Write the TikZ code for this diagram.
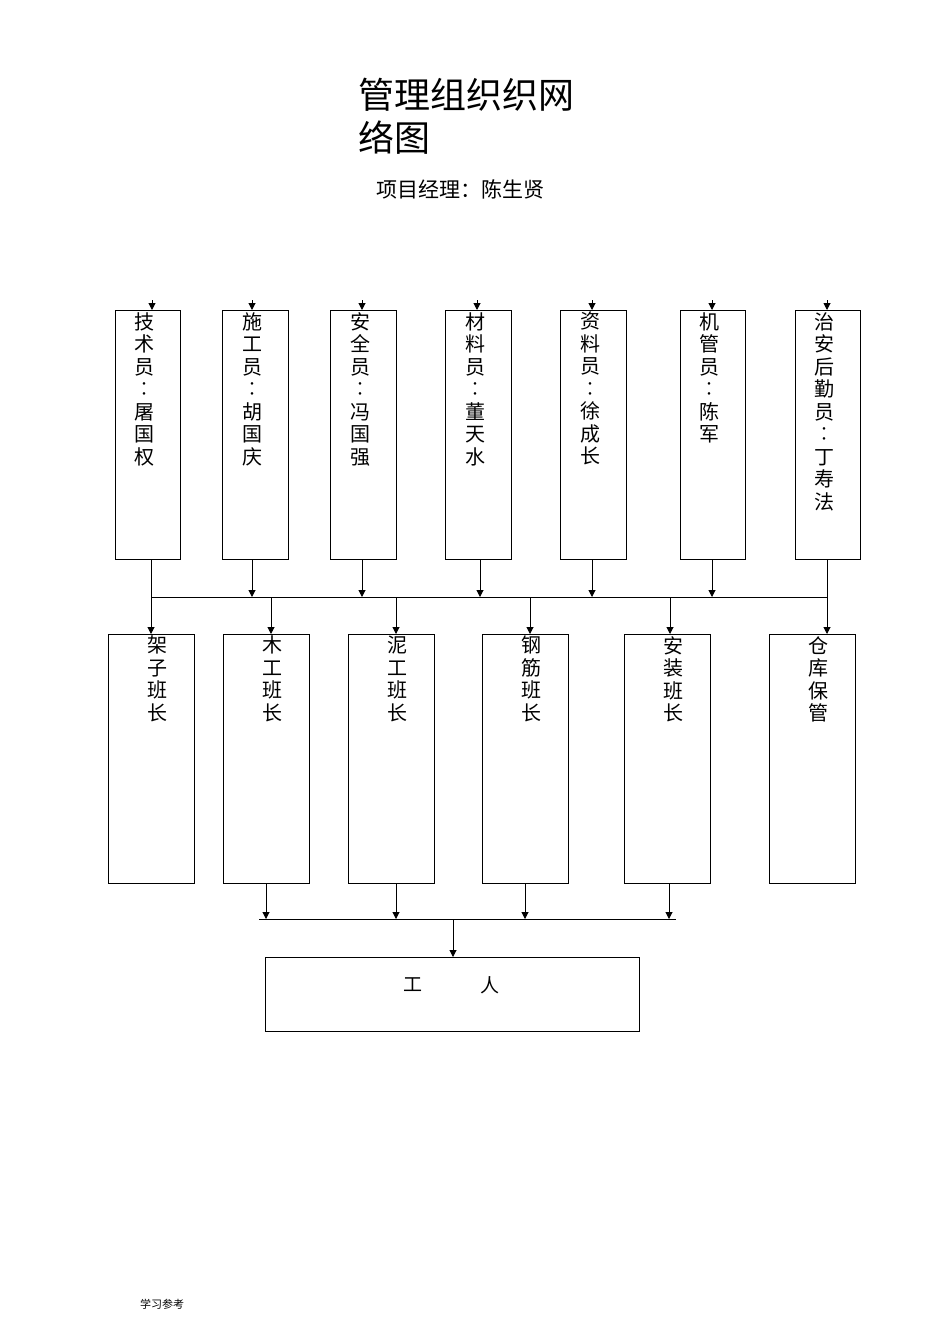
\documentclass[tikz,border=0pt]{standalone}
\usepackage{fontspec}
\newfontfamily\cjk{Noto Sans CJK SC}
\usetikzlibrary{arrows.meta,calc}
\begin{document}
\begin{tikzpicture}[x=1pt,y=-1pt,font=\cjk,
  box/.style={draw,line width=0.8pt},
  vt/.style={anchor=north,align=center,text width=22pt,inner sep=0pt,font=\cjk\fontsize{20}{22.5}\selectfont},
  ar/.style={line width=1pt,-{Triangle[length=7pt,width=7pt]}},
  ln/.style={line width=1pt}]
\useasboundingbox (0,0) rectangle (950,1344);
\node[anchor=west,font=\cjk\fontsize{36}{40}\selectfont] (t1) at (355,95) {管理组织织网};
\node[anchor=west,font=\cjk\fontsize{36}{40}\selectfont] (t2) at (355,138) {络图};
\node[font=\cjk\fontsize{21}{23}\selectfont] (sub) at (460,189) {项目经理：陈生贤};
% top boxes
\foreach \n/\a/\b/\t in {A/115/180/{技\\术\\员\\︰\\屠\\国\\权},B/222/288/{施\\工\\员\\︰\\胡\\国\\庆},C/330/396/{安\\全\\员\\︰\\冯\\国\\强},D/445/511/{材\\料\\员\\︰\\董\\天\\水},E/560/626/{资\\料\\员\\︰\\徐\\成\\长},F/680/745/{机\\管\\员\\︰\\陈\\军},G/795/860/{治\\安\\后\\勤\\员\\︰\\丁\\寿\\法}}{
  \node[box,minimum width=\b-\a,minimum height=249,inner sep=0pt,anchor=north west] (\n) at (\a,310) {};
  \node[vt] (\n t) at ($(\a,312)!0.5!(\b,312)+(-3,0)$) {\t};
}
\foreach \n/\x in {A/152,B/252,C/362,D/477,E/592,F/712,G/827}{
  \coordinate (\n s) at (\x,300);
  \draw[ar] (\n s) -- (\x,310);
}
% bus 1
\coordinate (b1l) at (151,597); \coordinate (b1r) at (827,597);
\draw[ln] (b1l) -- (b1r);
\draw[ln] (151,559) -- (b1l);
\foreach \x in {252,362,480,592,712}{\draw[ar] (\x,559) -- (\x,597);}
\draw[ln] (827,559) -- (b1r);
% bottom boxes
\foreach \n/\a/\b/\t in {H/108/194/{架\\子\\班\\长},I/223/309/{木\\工\\班\\长},J/348/434/{泥\\工\\班\\长},K/482/568/{钢\\筋\\班\\长},L/624/710/{安\\装\\班\\长},M/769/855/{仓\\库\\保\\管}}{
  \node[box,minimum width=\b-\a,minimum height=249,inner sep=0pt,anchor=north west] (\n) at (\a,634) {};
  \node[vt] (\n t) at ($(\a,636)!0.5!(\b,636)+(6,0)$) {\t};
}
\foreach \x in {151,271,396,530,670,827}{\draw[ar] (\x,597) -- (\x,634);}
% bus 2
\coordinate (b2l) at (259,919); \coordinate (b2r) at (676,919);
\draw[ln] (b2l) -- (b2r);
\foreach \x in {266,396,525,669}{\draw[ar] (\x,883) -- (\x,919);}
\node[box,minimum width=374,minimum height=74,inner sep=0pt,anchor=north west] (W) at (265,957) {};
\draw[ar] (453,919) -- (453,957);
\node[font=\cjk\fontsize{19}{23}\selectfont] (w1) at (413,985) {工};
\node[font=\cjk\fontsize{19}{23}\selectfont] (w2) at (490,985) {人};
\node[font=\cjk\fontsize{11}{13}\selectfont] (foot) at (162,1304) {学习参考};
\end{tikzpicture}
\end{document}
